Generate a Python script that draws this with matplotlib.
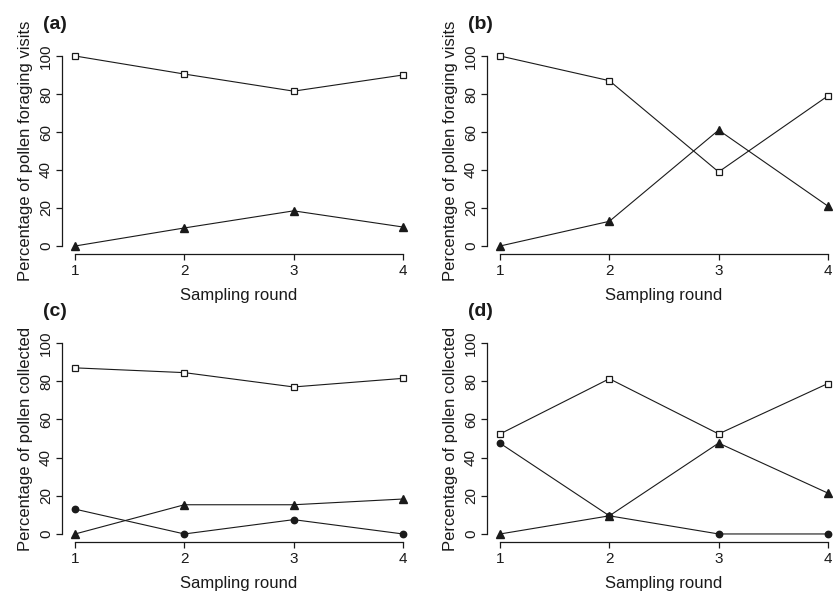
import matplotlib
matplotlib.use("Agg")
import matplotlib.pyplot as plt

plt.rcParams['font.family'] = ['Liberation Sans', 'DejaVu Sans']

rounds = [1, 2, 3, 4]

# (a) pollen foraging visits
a_square = [100, 90.5, 81.5, 90]
a_triangle = [0, 9.5, 18.5, 10]
# (b)
b_square = [100, 87, 39, 79]
b_triangle = [0, 13, 61, 21]
# (c) pollen collected
c_square = [87, 84.5, 77, 81.5]
c_triangle = [0, 15.3, 15.3, 18.3]
c_circle = [13, 0, 7.5, 0]
# (d)
d_square = [52.4, 81.3, 52.4, 78.8]
d_triangle = [0, 9.5, 47.6, 21.4]
d_circle = [47.5, 9.5, 0, 0]

panel_labels = ['(a)', '(b)', '(c)', '(d)']
ylabels = ['Percentage of pollen foraging visits', 'Percentage of pollen foraging visits',
           'Percentage of pollen collected', 'Percentage of pollen collected']
xlabel = 'Sampling round'
yticks = [0, 20, 40, 60, 80, 100]

W, H = 833, 593
fig = plt.figure(figsize=(W / 100, H / 100), dpi=100)

# axes boxes in pixels: left, top, right, bottom
boxes = [(62, 48.4, 416, 253.6), (487, 48.4, 841, 253.6),
         (62, 335.4, 416, 541.6), (487, 335.4, 841, 541.6)]

data = [
    [(a_square, 's'), (a_triangle, '^')],
    [(b_square, 's'), (b_triangle, '^')],
    [(c_square, 's'), (c_triangle, '^'), (c_circle, 'o')],
    [(d_square, 's'), (d_triangle, '^'), (d_circle, 'o')],
]

col = '#1a1a1a'
for i, (box, series) in enumerate(zip(boxes, data)):
    l, t, r, b = box
    ax = fig.add_axes([l / W, (H - b) / H, (r - l) / W, (b - t) / H])
    for vals, m in series:
        if m == 's':
            ax.plot(rounds, vals, color=col, lw=0.8, marker='s', ms=4.3,
                    mfc='white', mec=col, mew=0.9)
        elif m == '^':
            ax.plot(rounds, vals, color=col, lw=0.8, marker='^', ms=5.6,
                    mfc=col, mec=col)
        else:
            ax.plot(rounds, vals, color=col, lw=0.8, marker='o', ms=4.6,
                    mfc=col, mec=col)
    ax.set_xlim(0.88, 4.12)
    ax.set_ylim(-4, 104)
    ax.set_xticks(rounds)
    ax.set_yticks(yticks)
    ax.set_yticklabels([str(v) for v in yticks], rotation=90, va='center')
    for s in ['top', 'right']:
        ax.spines[s].set_visible(False)
    ax.spines['left'].set_bounds(0, 100)
    ax.spines['bottom'].set_bounds(1, 4)
    for s in ['left', 'bottom']:
        ax.spines[s].set_linewidth(0.9)
        ax.spines[s].set_color(col)
    ax.tick_params(axis='both', length=4.5, width=0.9, color=col, labelsize=11,
                   labelcolor=col, pad=2)
    ax.tick_params(axis='x', pad=3)
    ax.set_xlabel(xlabel, fontsize=12, color=col, labelpad=7)
    ax.set_ylabel(ylabels[i], fontsize=12, color=col, labelpad=4)
    fig.text((l - 19) / W, (H - (t - 23.5)) / H, panel_labels[i], fontsize=14,
             fontweight='bold', color=col, ha='left', va='center')

fig.savefig('out.png', dpi=100)
